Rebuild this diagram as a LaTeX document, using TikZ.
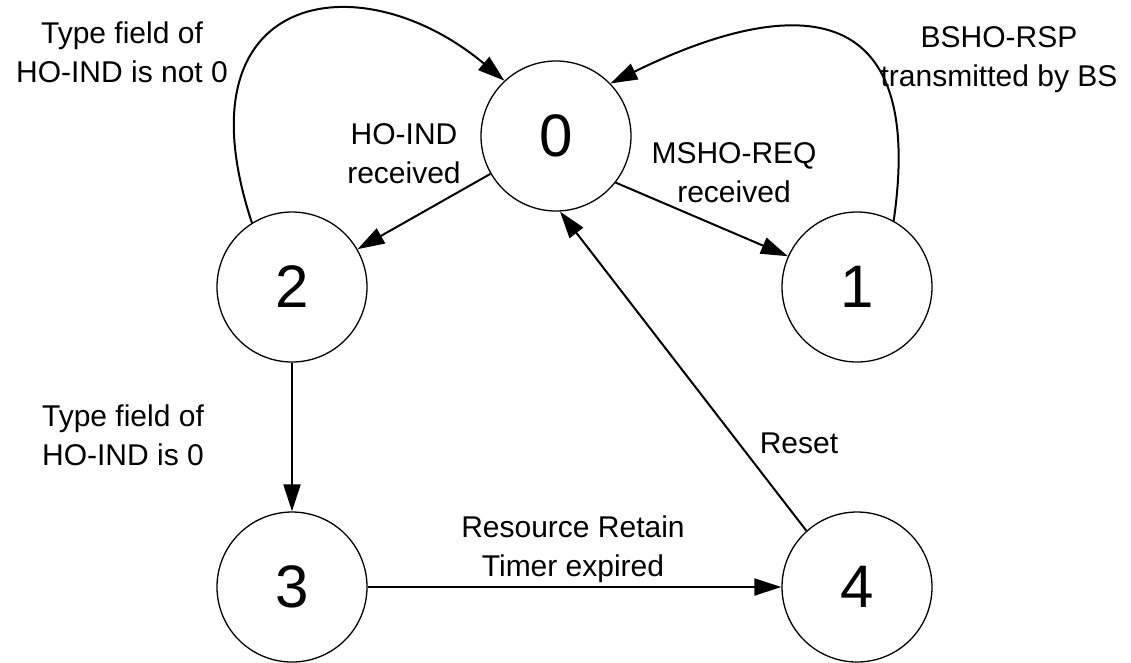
\documentclass[tikz,border=0pt]{standalone}
\usepackage{fontspec}
\setmainfont{Liberation Sans}
\usetikzlibrary{arrows.meta}
\begin{document}
\begin{tikzpicture}[x=1pt,y=-1pt,
  state/.style={circle,draw=black,line width=1.3pt,minimum size=150pt,inner sep=0pt,
    font=\fontsize{60}{60}\selectfont},
  lbl/.style={align=center,inner sep=0pt,font=\fontsize{30}{39}\selectfont},
  conn/.style={line width=2pt,-{Triangle[length=27pt,width=17pt]}}]
\useasboundingbox[fill=white] (0,0) rectangle (1131,662);
\node[state] (n0) at (556,136) {0};
\node[state] (n1) at (857,287) {1};
\node[state] (n2) at (292,287) {2};
\node[state] (n3) at (292,587) {3};
\node[state] (n4) at (857,587) {4};

\draw[conn] (n0.210) -- (n2.30);
\draw[conn] (n0.-38) -- (n1.156);
\draw[conn] (n2) -- (n3);
\draw[conn] (n3) -- (n4);
\draw[conn] (n4.132) -- (n0.-87);
\draw[conn] (n2.122) .. controls (175,-10) and (360,-40) .. (n0.133);
\draw[conn] (n1.61) .. controls (930,-30) and (760,10) .. (n0.44);

\node[lbl] (l1) at (122,52) {Type field of\\HO-IND is not 0};
\node[lbl] (l2) at (999,60) {BSHO-RSP\\transmitted by BS};
\node[lbl] (l3) at (404,154) {HO-IND\\received};
\node[lbl] (l4) at (734,173) {MSHO-REQ\\received};
\node[lbl] (l5) at (123,435) {Type field of\\HO-IND is 0};
\node[lbl] (l6) at (799,443) {Reset};
\node[lbl] (l7) at (573,549) {Resource Retain\\Timer expired};
\end{tikzpicture}
\end{document}
